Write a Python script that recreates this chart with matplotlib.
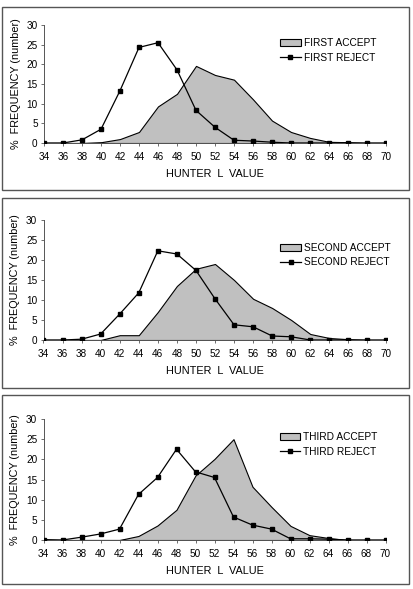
import matplotlib
matplotlib.use("Agg")
import matplotlib.pyplot as plt
from matplotlib.patches import Rectangle, Patch
from matplotlib.lines import Line2D

plt.rcParams["font.family"] = ["Liberation Sans", "DejaVu Sans"]

hunter_l = [34, 36, 38, 40, 42, 44, 46, 48, 50, 52, 54, 56, 58, 60, 62, 64, 66, 68, 70]

first_accept = [0, 0, 0, 0.2, 1.0, 2.8, 9.3, 12.5, 19.6, 17.3, 16.1, 11.1, 5.7, 2.8, 1.3, 0.3, 0.2, 0, 0]
first_reject = [0, 0, 0.8, 3.5, 13.3, 24.3, 25.5, 18.6, 8.3, 4.0, 0.7, 0.5, 0.2, 0, 0, 0, 0, 0, 0]

second_accept = [0, 0, 0, 0, 1.2, 1.2, 7.0, 13.5, 17.8, 19.0, 15.0, 10.3, 8.0, 5.0, 1.5, 0.5, 0.2, 0, 0]
second_reject = [0, 0, 0.2, 1.5, 6.5, 11.8, 22.3, 21.5, 17.4, 10.3, 3.8, 3.3, 1.0, 0.8, 0, 0, 0, 0, 0]

third_accept = [0, 0, 0, 0, 0, 1.0, 3.6, 7.5, 16.0, 20.1, 25.0, 13.2, 8.2, 3.5, 1.2, 0.5, 0, 0, 0]
third_reject = [0.1, 0, 0.7, 1.5, 2.7, 11.3, 15.5, 22.5, 16.9, 15.5, 5.7, 3.7, 2.7, 0.3, 0.3, 0.2, 0, 0, 0]

panels = [
    ("FIRST", first_accept, first_reject),
    ("SECOND", second_accept, second_reject),
    ("THIRD", third_accept, third_reject),
]

W, H = 413, 589
fig = plt.figure(figsize=(W / 100, H / 100), dpi=100)

# pixel boxes: (axes left, right, top, bottom), (frame top, bottom), legend anchor y
axes_px = [(44, 386, 25, 143), (43.5, 386.5, 220, 340), (43.5, 385.5, 419, 540)]
frames_px = [(7, 190), (198, 388), (395, 584)]
legend_y = [0.95, 0.87, 0.95]

for (name, accept, reject), (l, r, t, b), (ft, fb), ly in zip(panels, axes_px, frames_px, legend_y):
    fig.patches.append(Rectangle((2 / W, 1 - fb / H), 407 / W, (fb - ft) / H,
                                 transform=fig.transFigure, fill=False,
                                 edgecolor="#555555", linewidth=1.0))
    ax = fig.add_axes([l / W, 1 - b / H, (r - l) / W, (b - t) / H])
    ax.fill_between(hunter_l, accept, 0, facecolor="#c0c0c0", edgecolor="black",
                    linewidth=0.8, zorder=2)
    ax.plot(hunter_l, reject, color="black", linewidth=0.9, marker="s",
            markersize=2.3, zorder=3)

    ax.set_xlim(34, 70)
    ax.set_ylim(0, 30)
    ax.set_xticks(hunter_l)
    ax.set_yticks([0, 5, 10, 15, 20, 25, 30])
    ax.tick_params(labelsize=7.2, length=2.5, width=0.6, color="#555555", pad=2)
    ax.tick_params(axis="x", pad=4)
    for side in ("top", "right"):
        ax.spines[side].set_visible(False)
    for side in ("left", "bottom"):
        ax.spines[side].set_color("#555555")
        ax.spines[side].set_linewidth(0.7)
    ax.set_xlabel("HUNTER  L  VALUE", fontsize=7.8, labelpad=5)
    ax.set_ylabel("%  FREQUENCY (number)", fontsize=7.8, labelpad=4)

    handles = [
        Patch(facecolor="#c0c0c0", edgecolor="black", linewidth=0.8),
        Line2D([], [], color="black", linewidth=0.9, marker="s", markersize=2.3),
    ]
    ax.legend(handles, [name + " ACCEPT", name + " REJECT"], loc="upper left",
              bbox_to_anchor=(0.67, ly), frameon=False, fontsize=7.3,
              handlelength=2.0, handletextpad=0.3, labelspacing=0.45,
              borderpad=0.2)

fig.savefig("out.png", dpi=100)
